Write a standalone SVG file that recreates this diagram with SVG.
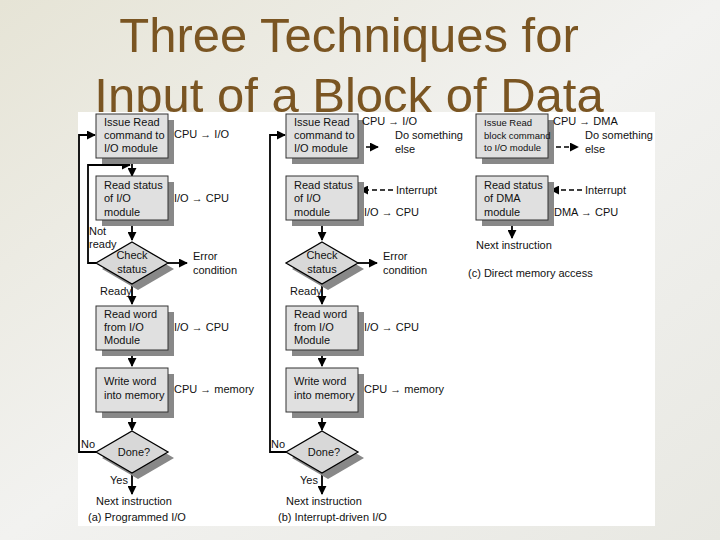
<svg xmlns="http://www.w3.org/2000/svg" width="720" height="540" viewBox="0 0 720 540">
<defs>
<linearGradient id="bg" x1="0" y1="0" x2="1" y2="1"><stop offset="0" stop-color="#e6e4d6"/><stop offset="0.5" stop-color="#f2f2f0"/><stop offset="1" stop-color="#e8e8e2"/></linearGradient>
<marker id="ah" viewBox="0 0 10 10" refX="9" refY="5" markerWidth="9" markerHeight="9" markerUnits="userSpaceOnUse" orient="auto"><path d="M0,0L10,5L0,10z" fill="#000"/></marker>
<g id="box"><rect x="6" y="6" width="72" height="44" fill="#888"/><rect x="0" y="0" width="72" height="44" fill="#e0e0e0" stroke="#333" stroke-width="1"/></g>
<g id="dia"><polygon points="42,6 78,27 42,48 6,27" fill="#888"/><polygon points="36,0 72,21 36,42 0,21" fill="#d8d8d8" stroke="#000" stroke-width="1.3"/></g>
</defs>
<style>
text{font-family:"Liberation Sans",Arial,sans-serif;font-size:11px;fill:#111}
.t{font-size:49px;fill:#7a5522;text-anchor:middle}
.c{text-anchor:middle}
.l{stroke:#000;stroke-width:1.8;fill:none}
.d{stroke:#000;stroke-width:1.5;fill:none;stroke-dasharray:5,3}
</style>
<rect width="720" height="540" fill="url(#bg)"/>
<g id="title"><text class="t" x="349" y="52">Three Techniques for</text><text class="t" x="349" y="112">Input of a Block of Data</text></g>
<rect x="78" y="112" width="577" height="414" fill="#fff"/>

<g id="connectors">
<path class="l" d="M132,159V176" marker-end="url(#ah)"/>
<path class="l" d="M132,220V240" marker-end="url(#ah)"/>
<path class="l" d="M96,263H88V165H130" marker-end="url(#ah)"/>
<path class="l" d="M168,263H187" marker-end="url(#ah)"/>
<path class="l" d="M132,284V304" marker-end="url(#ah)"/>
<path class="l" d="M132,350V366" marker-end="url(#ah)"/>
<path class="l" d="M132,412V430" marker-end="url(#ah)"/>
<path class="l" d="M96,452H79V135H95" marker-end="url(#ah)"/>
<path class="l" d="M132,473V494" marker-end="url(#ah)"/>
<path class="d" d="M358,147H378" marker-end="url(#ah)"/>
<path class="d" d="M393,190H360" marker-end="url(#ah)"/>
<path class="l" d="M322,220V240" marker-end="url(#ah)"/>
<path class="l" d="M358,263H377" marker-end="url(#ah)"/>
<path class="l" d="M322,284V304" marker-end="url(#ah)"/>
<path class="l" d="M322,350V366" marker-end="url(#ah)"/>
<path class="l" d="M322,412V430" marker-end="url(#ah)"/>
<path class="l" d="M286,452H270V135H285" marker-end="url(#ah)"/>
<path class="l" d="M322,473V494" marker-end="url(#ah)"/>
<path class="d" d="M548,147H578" marker-end="url(#ah)"/>
<path class="d" d="M582,190H551" marker-end="url(#ah)"/>
<path class="l" d="M512,220V238" marker-end="url(#ah)"/>
</g>

<g id="a-issue"><use href="#box" x="96" y="114"/><text x="104" y="126">Issue Read</text><text x="104" y="139">command to</text><text x="104" y="152">I/O module</text></g>
<g id="a-status"><use href="#box" x="96" y="176"/><text x="104" y="189">Read status</text><text x="104" y="202">of I/O</text><text x="104" y="216">module</text></g>
<g id="a-check"><use href="#dia" x="96" y="242"/><text class="c" x="132" y="259">Check</text><text class="c" x="132" y="273">status</text></g>
<g id="a-read"><use href="#box" x="96" y="306"/><text x="104" y="318">Read word</text><text x="104" y="331">from I/O</text><text x="104" y="344">Module</text></g>
<g id="a-write"><use href="#box" x="96" y="368"/><text x="104" y="385">Write word</text><text x="104" y="399">into memory</text></g>
<g id="a-done"><use href="#dia" x="96" y="431"/><text class="c" x="134" y="456">Done?</text></g>

<g id="b-issue"><use href="#box" x="286" y="114"/><text x="294" y="126">Issue Read</text><text x="294" y="139">command to</text><text x="294" y="152">I/O module</text></g>
<g id="b-status"><use href="#box" x="286" y="176"/><text x="294" y="189">Read status</text><text x="294" y="202">of I/O</text><text x="294" y="216">module</text></g>
<g id="b-check"><use href="#dia" x="286" y="242"/><text class="c" x="322" y="259">Check</text><text class="c" x="322" y="273">status</text></g>
<g id="b-read"><use href="#box" x="286" y="306"/><text x="294" y="318">Read word</text><text x="294" y="331">from I/O</text><text x="294" y="344">Module</text></g>
<g id="b-write"><use href="#box" x="286" y="368"/><text x="294" y="385">Write word</text><text x="294" y="399">into memory</text></g>
<g id="b-done"><use href="#dia" x="286" y="431"/><text class="c" x="324" y="456">Done?</text></g>

<g id="c-issue"><use href="#box" x="476" y="114"/><text x="484" y="126" style="font-size:9.5px">Issue Read</text><text x="484" y="139" style="font-size:9.5px">block command</text><text x="484" y="151" style="font-size:9.5px">to I/O module</text></g>
<g id="c-status"><use href="#box" x="476" y="176"/><text x="484" y="189">Read status</text><text x="484" y="202">of DMA</text><text x="484" y="216">module</text></g>

<g id="labels">
<text x="174" y="138">CPU → I/O</text>
<text x="174" y="202">I/O → CPU</text>
<text x="89" y="235">Not</text><text x="89" y="248">ready</text>
<text x="193" y="260">Error</text><text x="193" y="274">condition</text>
<text x="100" y="295">Ready</text>
<text x="174" y="331">I/O → CPU</text>
<text x="174" y="393">CPU → memory</text>
<text x="81" y="448">No</text>
<text x="110" y="484">Yes</text>
<text x="96" y="505">Next instruction</text>
<text x="88" y="521">(a) Programmed I/O</text>
<text x="362" y="125">CPU → I/O</text>
<text x="395" y="139">Do something</text><text x="395" y="153">else</text>
<text x="396" y="194">Interrupt</text>
<text x="364" y="216">I/O → CPU</text>
<text x="383" y="260">Error</text><text x="383" y="274">condition</text>
<text x="290" y="295">Ready</text>
<text x="364" y="331">I/O → CPU</text>
<text x="364" y="393">CPU → memory</text>
<text x="271" y="448">No</text>
<text x="300" y="484">Yes</text>
<text x="286" y="505">Next instruction</text>
<text x="278" y="521">(b) Interrupt-driven I/O</text>
<text x="553" y="125">CPU → DMA</text>
<text x="585" y="139">Do something</text><text x="585" y="153">else</text>
<text x="585" y="194">Interrupt</text>
<text x="554" y="216">DMA → CPU</text>
<text x="476" y="249">Next instruction</text>
<text x="468" y="277">(c) Direct memory access</text>
</g>
</svg>
